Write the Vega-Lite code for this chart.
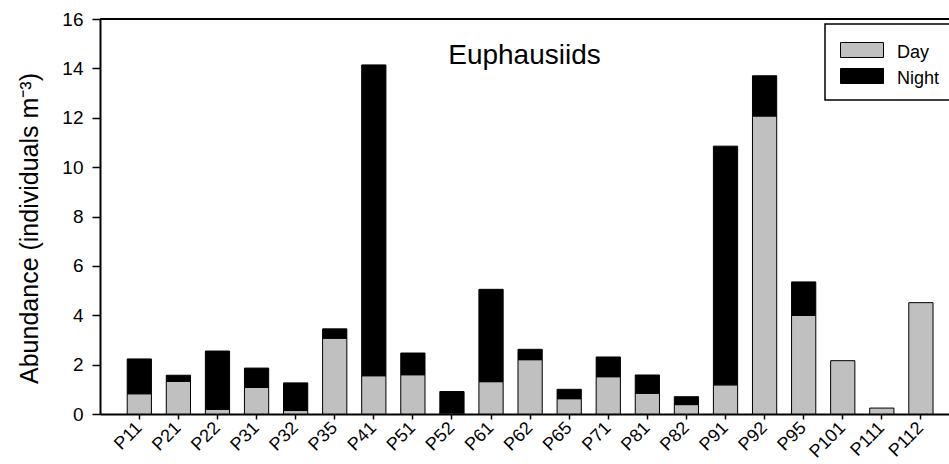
{
  "$schema": "https://vega.github.io/schema/vega-lite/v6.json",
  "autosize": {"type": "none"},
  "padding": {"left": 100, "top": 19, "right": 0, "bottom": 50},
  "width": 849,
  "height": 395,
  "background": "white",
  "title": {
    "text": "Euphausiids",
    "orient": "top",
    "anchor": "middle",
    "frame": "group",
    "baseline": "alphabetic",
    "offset": 0,
    "dy": 82,
    "font": "Liberation Sans",
    "fontSize": 28,
    "fontWeight": "normal",
    "color": "black"
  },
  "config": {
    "view": {"stroke": null},
    "font": "Liberation Sans",
    "axis": {
      "labelFont": "Liberation Sans",
      "titleFont": "Liberation Sans",
      "labelColor": "black",
      "titleColor": "black",
      "domainColor": "black",
      "tickColor": "black",
      "domainWidth": 2,
      "tickWidth": 1.5,
      "grid": false
    },
    "legend": {
      "labelFont": "Liberation Sans"
    }
  },
  "data": {
    "values": [
      {"station": "P11", "period": "Day", "abundance": 0.82},
      {"station": "P11", "period": "Night", "abundance": 1.41},
      {"station": "P21", "period": "Day", "abundance": 1.32},
      {"station": "P21", "period": "Night", "abundance": 0.25},
      {"station": "P22", "period": "Day", "abundance": 0.19},
      {"station": "P22", "period": "Night", "abundance": 2.36},
      {"station": "P31", "period": "Day", "abundance": 1.08},
      {"station": "P31", "period": "Night", "abundance": 0.78},
      {"station": "P32", "period": "Day", "abundance": 0.14},
      {"station": "P32", "period": "Night", "abundance": 1.12},
      {"station": "P35", "period": "Day", "abundance": 3.07},
      {"station": "P35", "period": "Night", "abundance": 0.38},
      {"station": "P41", "period": "Day", "abundance": 1.55},
      {"station": "P41", "period": "Night", "abundance": 12.59},
      {"station": "P51", "period": "Day", "abundance": 1.59},
      {"station": "P51", "period": "Night", "abundance": 0.88},
      {"station": "P52", "period": "Day", "abundance": 0.04},
      {"station": "P52", "period": "Night", "abundance": 0.87},
      {"station": "P61", "period": "Day", "abundance": 1.31},
      {"station": "P61", "period": "Night", "abundance": 3.74},
      {"station": "P62", "period": "Day", "abundance": 2.2},
      {"station": "P62", "period": "Night", "abundance": 0.42},
      {"station": "P65", "period": "Day", "abundance": 0.62},
      {"station": "P65", "period": "Night", "abundance": 0.38},
      {"station": "P71", "period": "Day", "abundance": 1.51},
      {"station": "P71", "period": "Night", "abundance": 0.8},
      {"station": "P81", "period": "Day", "abundance": 0.84},
      {"station": "P81", "period": "Night", "abundance": 0.74},
      {"station": "P82", "period": "Day", "abundance": 0.38},
      {"station": "P82", "period": "Night", "abundance": 0.32},
      {"station": "P91", "period": "Day", "abundance": 1.18},
      {"station": "P91", "period": "Night", "abundance": 9.67},
      {"station": "P92", "period": "Day", "abundance": 12.07},
      {"station": "P92", "period": "Night", "abundance": 1.63},
      {"station": "P95", "period": "Day", "abundance": 3.99},
      {"station": "P95", "period": "Night", "abundance": 1.36},
      {"station": "P101", "period": "Day", "abundance": 2.16},
      {"station": "P111", "period": "Day", "abundance": 0.24},
      {"station": "P112", "period": "Day", "abundance": 4.51}
    ]
  },
  "layer": [
    {
      "mark": {"type": "bar", "stroke": "black", "strokeWidth": 1, "opacity": 1},
      "encoding": {
        "x": {
          "field": "station",
          "type": "nominal",
          "sort": ["P11", "P21", "P22", "P31", "P32", "P35", "P41", "P51", "P52", "P61", "P62", "P65", "P71", "P81", "P82", "P91", "P92", "P95", "P101", "P111", "P112"],
          "scale": {"paddingInner": 0.38, "paddingOuter": 0.5525, "align": 0.63},
          "axis": {
            "title": null,
            "labelAngle": -45,
            "labelAlign": "right",
            "labelBaseline": "middle",
            "labelFontSize": 18,
            "labelPadding": 6,
            "tickSize": 5
          }
        },
        "y": {
          "field": "abundance",
          "type": "quantitative",
          "aggregate": "sum",
          "stack": "zero",
          "scale": {"domain": [0, 16], "nice": false},
          "axis": {
            "title": "Abundance (individuals m⁻³)",
            "values": [0, 2, 4, 6, 8, 10, 12, 14, 16],
            "labelFontSize": 19,
            "labelPadding": 9,
            "tickSize": 8,
            "titleFontSize": 25,
            "titleFontWeight": "normal",
            "titleAngle": -90,
            "titleBaseline": "alphabetic",
            "titleAlign": "center",
            "titleX": -63,
            "titleY": 209
          }
        },
        "color": {
          "field": "period",
          "type": "nominal",
          "scale": {"domain": ["Day", "Night"], "range": ["#c0c0c0", "#000000"]},
          "legend": {
            "title": null,
            "orient": "none",
            "legendX": 725,
            "legendY": 5,
            "direction": "vertical",
            "strokeColor": "black",
            "fillColor": "white",
            "padding": 12,
            "symbolType": "M-0.86,-0.721H1.14V-0.023H-0.86Z",
            "symbolSize": 1849,
            "symbolStrokeColor": "black",
            "symbolStrokeWidth": 1,
            "symbolOpacity": 1,
            "labelFontSize": 18,
            "labelColor": "black",
            "labelOffset": 16,
            "labelBaseline": "alphabetic",
            "rowPadding": -25,
            "encode": {
              "legend": {"update": {"strokeWidth": {"value": 1.5}}},
              "entries": {"update": {"width": {"value": 140}}}
            }
          }
        },
        "order": {"field": "period", "sort": "ascending"}
      }
    },
    {
      "mark": {"type": "rule", "color": "black", "strokeWidth": 2},
      "encoding": {"y": {"datum": 16}}
    }
  ]
}
